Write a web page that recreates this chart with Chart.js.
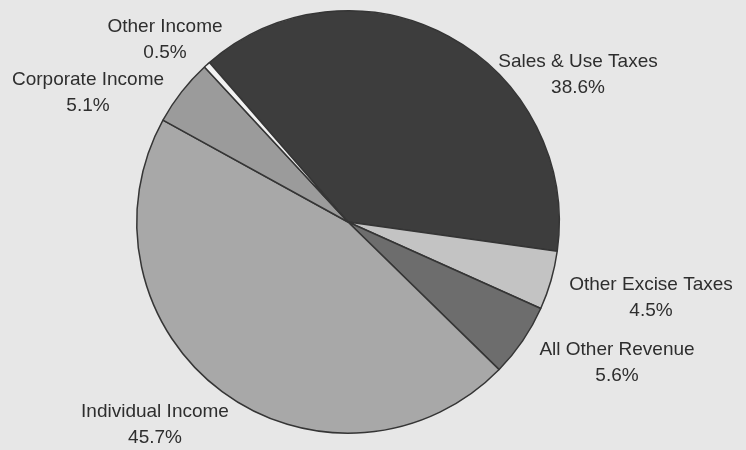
<!DOCTYPE html>
<html>
<head>
<meta charset="utf-8">
<script src="https://cdn.jsdelivr.net/npm/chart.js@4/dist/chart.umd.min.js"></script>
<style>
  html, body { margin: 0; padding: 0; background: #e7e7e7; }
  #wrap { width: 746px; height: 450px; position: relative; }
</style>
</head>
<body>
<div id="wrap"><canvas id="revenuePie"></canvas></div>
<script>
// categories and shares (%), clockwise from Sales & Use Taxes
var categories = [
    "Sales & Use Taxes",
    "Other Excise Taxes",
    "All Other Revenue",
    "Individual Income",
    "Corporate Income",
    "Other Income"
];
var shares = [38.6, 4.5, 5.6, 45.7, 5.1, 0.5];

// where each label sits (center of the text block)
var labelPos = [
    [578, 62],
    [651, 285],
    [617, 350],
    [155, 412],
    [88, 80],
    [165, 27]
];

var sliceColors = ['#3d3d3d', '#c3c3c3', '#6d6d6d', '#a8a8a8', '#9b9b9b', '#f2f2f2'];

var outsideLabels = {
    id: 'outsideLabels',
    afterDraw: function (chart) {
        var ctx = chart.ctx;
        ctx.save();
        ctx.font = '19px "Liberation Sans", Arial, sans-serif';
        ctx.fillStyle = '#2e2e2e';
        ctx.textAlign = 'center';
        ctx.textBaseline = 'middle';
        categories.forEach(function (name, i) {
            var p = labelPos[i];
            ctx.fillText(name, p[0], p[1]);
            ctx.fillText(shares[i].toFixed(1) + '%', p[0], p[1] + 26);
        });
        ctx.restore();
    }
};

new Chart(document.getElementById('revenuePie'), {
    type: 'pie',
    data: {
        labels: categories,
        datasets: [{
            data: shares,
            backgroundColor: sliceColors,
            borderColor: '#353535',
            borderWidth: 1.5
        }]
    },
    options: {
        responsive: true,
        maintainAspectRatio: false,
        animation: false,
        rotation: -41,
        layout: { padding: { left: 136, right: 186, top: 10, bottom: 16 } },
        plugins: {
            legend: { display: false },
            tooltip: { enabled: false },
            title: { display: false }
        }
    },
    plugins: [outsideLabels]
});
</script>
</body>
</html>
